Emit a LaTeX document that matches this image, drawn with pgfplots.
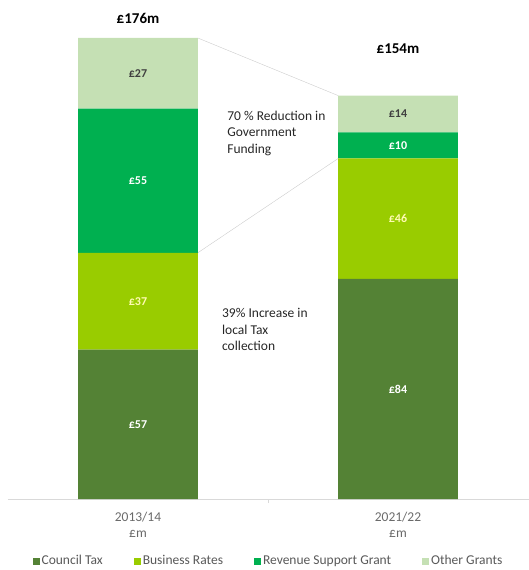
\documentclass[border=0pt]{standalone}
\usepackage{fontspec}
\setmainfont{Carlito}
\usepackage{pgfplots}
\pgfplotsset{compat=1.18}
\usepackage{pgfplotstable}

\definecolor{ctax}{HTML}{548235}
\definecolor{brates}{HTML}{99CC00}
\definecolor{rsg}{HTML}{00B050}
\definecolor{ogr}{HTML}{C5E0B4}
\definecolor{txtgray}{HTML}{595959}

% funding by source, £m
\pgfplotstableread{
x ct br rsg og
0 57 37 55 27
1 84 46 10 14
}\funding

\pgfplotsset{
  seg/.style={fill=#1, draw=none},
}

\begin{document}
\begin{tikzpicture}
\useasboundingbox (-8pt,-71pt) rectangle (521pt,499pt);
\begin{axis}[
  scale only axis, width=521pt, height=499pt,
  xmin=-0.5, xmax=1.504, ymin=0, ymax=190.5,
  ybar stacked, bar width=0.46,
  axis x line=bottom, axis y line=none,
  x axis line style={-, draw=black!15},
  xtick={0,1}, xticklabels={2013/14\\£m, 2021/22\\£m},
  major tick length=0pt,
  extra x ticks={0.5}, extra x tick labels={},
  extra x tick style={major tick length=4pt, tick align=outside, tick style={draw=black!15}},
  xticklabel style={align=center, font=\fontsize{13.5}{15.5}\selectfont, text=txtgray!90, yshift=-10pt},
  point meta=explicit,
  /pgf/number format/assume math mode=true,
  nodes near coords={£\pgfmathprintnumber{\pgfplotspointmeta}},
  every node near coord/.append style={anchor=center, font=\bfseries\fontsize{12}{13}\selectfont},
  legend style={at={(axis description cs:0.5,0)}, anchor=center, yshift=-62pt,
    draw=none, font=\fontsize{13.5}{15}\selectfont, text=txtgray,
    /tikz/every even column/.append style={column sep=29pt}},
  legend columns=4,
  legend image code/.code={\fill[#1] (0pt,-3.5pt) rectangle (7pt,3.5pt);},
  clip=false,
]
\addplot[seg=ctax, every node near coord/.append style={text=white}]
  table[x=x, y=ct, meta=ct] {\funding};
\addlegendentry{Council Tax}
\addplot[seg=brates, every node near coord/.append style={text=yellow!30}]
  table[x=x, y=br, meta=br] {\funding};
\addlegendentry{Business Rates}
\addplot[seg=rsg, every node near coord/.append style={text=white}]
  table[x=x, y=rsg, meta=rsg] {\funding};
\addlegendentry{Revenue Support Grant}
\addplot[seg=ogr, every node near coord/.append style={text=black!75}]
  table[x=x, y=og, meta=og] {\funding};
\addlegendentry{Other Grants}

% totals and connectors
\node[font=\bfseries\fontsize{15}{18}\selectfont] at (axis cs:0,183.5) {£176m};
\node[font=\bfseries\fontsize{15}{18}\selectfont] at (axis cs:1,172) {£154m};
\draw[black!20, thin] (axis cs:0.23,176) -- (axis cs:0.77,154);
\draw[black!20, thin] (axis cs:0.23,94) -- (axis cs:0.77,130);
\node[anchor=north west, align=left, text=black!85, font=\fontsize{13.5}{16.5}\selectfont]
  at (axis cs:0.33,149.5) {70 \% Reduction in\\Government\\Funding};
\node[anchor=north west, align=left, text=black!85, font=\fontsize{13.5}{16.5}\selectfont]
  at (axis cs:0.31,74) {39\% Increase in\\local Tax\\collection};
\end{axis}
\end{tikzpicture}
\end{document}
